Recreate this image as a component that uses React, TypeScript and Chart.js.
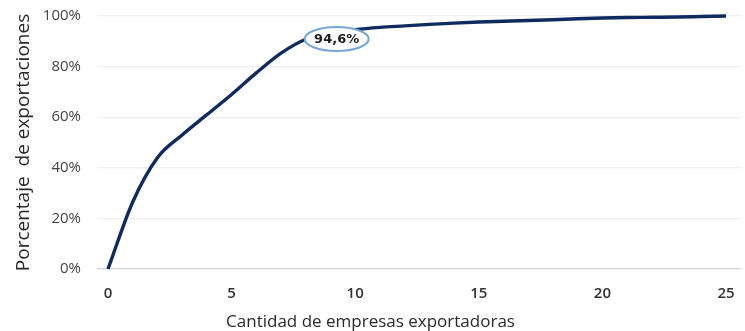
import React, { useEffect, useRef } from "react";
import { Chart, registerables } from "chart.js";

Chart.register(...registerables);

const firms = [0, 1, 2, 3, 4, 5, 6, 7, 8, 9, 10, 11, 12, 13, 14, 15, 16, 17, 18, 19, 20, 21, 22, 23, 24, 25];
const cumShare = [0, 26.5, 44, 53, 61, 69, 77.5, 85.3, 90.8, 93.2, 94.6, 95.5, 96.1, 96.7, 97.2, 97.6, 97.9, 98.2, 98.5, 98.9, 99.2, 99.4, 99.5, 99.6, 99.8, 100];
const xTicks = [0, 5, 10, 15, 20, 25];
const yTicks = [0, 20, 40, 60, 80, 100];
const calloutText = ["94,6%"];
const calloutPos = [9.25, 90.9];

const FONT = "'Open Sans', sans-serif";

const calloutPlugin = {
  id: "callout",
  afterDatasetsDraw(chart: any) {
    const { ctx, scales } = chart;
    const cx = scales.x.getPixelForValue(calloutPos[0]);
    const cy = scales.y.getPixelForValue(calloutPos[1]);
    ctx.save();
    ctx.beginPath();
    ctx.ellipse(cx, cy, 32, 12, 0, 0, Math.PI * 2);
    ctx.fillStyle = "#ffffff";
    ctx.fill();
    ctx.lineWidth = 2;
    ctx.strokeStyle = "#74a6d6";
    ctx.stroke();
    ctx.fillStyle = "#1e1e1e";
    ctx.font = "bold 13px 'DejaVu Sans', sans-serif";
    ctx.textAlign = "center";
    ctx.textBaseline = "middle";
    ctx.fillText(calloutText[0], cx, cy + 1);
    ctx.restore();
  },
};

export default function App() {
  const ref = useRef<HTMLCanvasElement | null>(null);
  useEffect(() => {
    if (!ref.current) return;
    const chart = new Chart(ref.current, {
      type: "line",
      data: {
        datasets: [
          {
            data: firms.map((f, i) => ({ x: f, y: cumShare[i] })),
            borderColor: "#0f2a5e",
            borderWidth: 3.4,
            pointRadius: 0,
            cubicInterpolationMode: "monotone",
            fill: false,
            clip: false as any,
          },
        ],
      },
      options: {
        animation: false,
        responsive: false,
        maintainAspectRatio: false,
        layout: { padding: { left: 0, right: 4, top: 16, bottom: 0 } },
        plugins: {
          legend: { display: false },
          tooltip: { enabled: false },
          title: {
            display: true,
            position: "bottom",
            text: "Cantidad de empresas exportadoras",
            color: "#2a2a2a",
            font: { family: FONT, size: 17, weight: "normal" as any, lineHeight: 1.0 },
            padding: 0,
          },
        },
        scales: {
          x: {
            type: "linear",
            min: -0.445,
            max: 25.607,
            afterBuildTicks: (axis: any) => {
              axis.ticks = xTicks.map((v) => ({ value: v }));
            },
            afterFit: (axis: any) => {
              axis.height = 45;
              axis.paddingLeft = 0;
              axis.paddingRight = 0;
            },
            grid: { display: false, drawTicks: false },
            border: { display: false },
            ticks: {
              padding: 16,
              color: "#333333",
              font: { family: FONT, size: 15, weight: "600" as any },
            },
          },
          y: {
            type: "linear",
            min: 0,
            max: 100,
            afterBuildTicks: (axis: any) => {
              axis.ticks = yTicks.map((v) => ({ value: v }));
            },
            afterFit: (axis: any) => {
              axis.width = 97;
              axis.paddingTop = 0;
              axis.paddingBottom = 0;
            },
            grid: {
              drawTicks: false,
              color: (c: any) => (c.tick && c.tick.value === 0 ? "#d4d4d8" : "#efefef"),
              lineWidth: 1.2,
            },
            border: { display: false },
            ticks: {
              padding: 16,
              color: "#444444",
              font: { family: FONT, size: 15 },
              callback: (v: any) => `${v}%`,
            },
            title: {
              display: true,
              text: "Porcentaje  de exportaciones",
              color: "#2a2a2a",
              font: { family: FONT, size: 19 },
              padding: { top: 12, bottom: 0 },
            },
          },
        },
      },
      plugins: [calloutPlugin],
    } as any);
    return () => chart.destroy();
  }, []);
  return (
    <div style={{ position: "fixed", left: 0, top: 0, width: 745, height: 331, background: "#fff" }}>
      <canvas ref={ref} width={745} height={331} style={{ width: 745, height: 331 }} />
    </div>
  );
}
